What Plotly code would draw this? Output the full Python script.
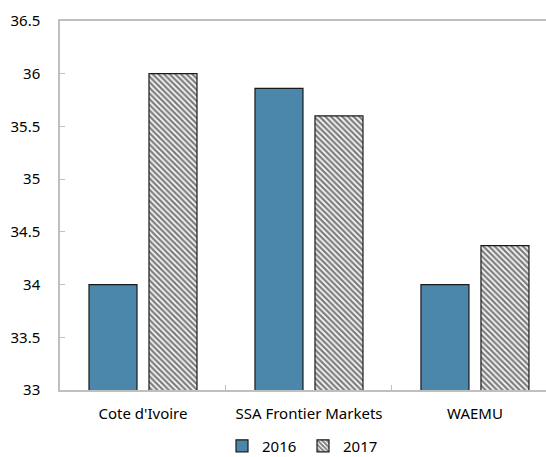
import plotly.graph_objects as go

# Comparison by region, 2016 vs 2017
categories = ["Cote d'Ivoire", "SSA Frontier Markets", "WAEMU"]
values_2016 = [34.0, 35.86, 34.0]
values_2017 = [36.0, 35.6, 34.37]
y_ticks = [33, 33.5, 34, 34.5, 35, 35.5, 36, 36.5]
y_tick_text = ["33", "33.5", "34", "34.5", "35", "35.5", "36", "36.5"]

FONT = "Noto Sans"
AXIS_GREY = "#bfbfbf"

fig = go.Figure()
fig.add_trace(go.Bar(
    x=categories, y=values_2016, name="2016",
    marker=dict(color="#4A87AB", line=dict(color="#1a1a1a", width=1.2)),
))
fig.add_trace(go.Bar(
    x=categories, y=values_2017, name="2017",
    marker=dict(
        color="white",
        line=dict(color="#1a1a1a", width=1.2),
        pattern=dict(shape="\\", fgcolor="black", bgcolor="white",
                     size=4, solidity=0.6, fillmode="overlay"),
    ),
))

fig.update_layout(
    width=546, height=457,
    margin=dict(l=60, r=0, t=21, b=67, autoexpand=False),
    paper_bgcolor="white", plot_bgcolor="white",
    barmode="group", bargap=0.277, bargroupgap=0.2,
    font=dict(family=FONT, size=15, color="#000000"),
    showlegend=True,
    legend=dict(orientation="h", x=0.5, xanchor="center",
                y=-0.152, yanchor="middle",
                font=dict(size=15), itemwidth=30,
                entrywidth=36, entrywidthmode="pixels",
                tracegroupgap=0, traceorder="normal"),
    xaxis=dict(
        type="category", range=[-0.5, 2.428],
        showline=True, linecolor=AXIS_GREY, linewidth=1.5, mirror=True,
        ticks="inside", tickson="boundaries", ticklen=5, tickcolor=AXIS_GREY,
        showgrid=False, tickfont=dict(size=15), ticklabelstandoff=9,
    ),
    yaxis=dict(
        range=[33, 36.5], tickvals=y_ticks, ticktext=y_tick_text,
        showline=True, linecolor=AXIS_GREY, linewidth=1.5,
        ticks="inside", ticklen=5, tickcolor=AXIS_GREY,
        showgrid=False, zeroline=False, tickfont=dict(size=15),
        ticklabelstandoff=15,
    ),
)

fig.write_html("out.html")
